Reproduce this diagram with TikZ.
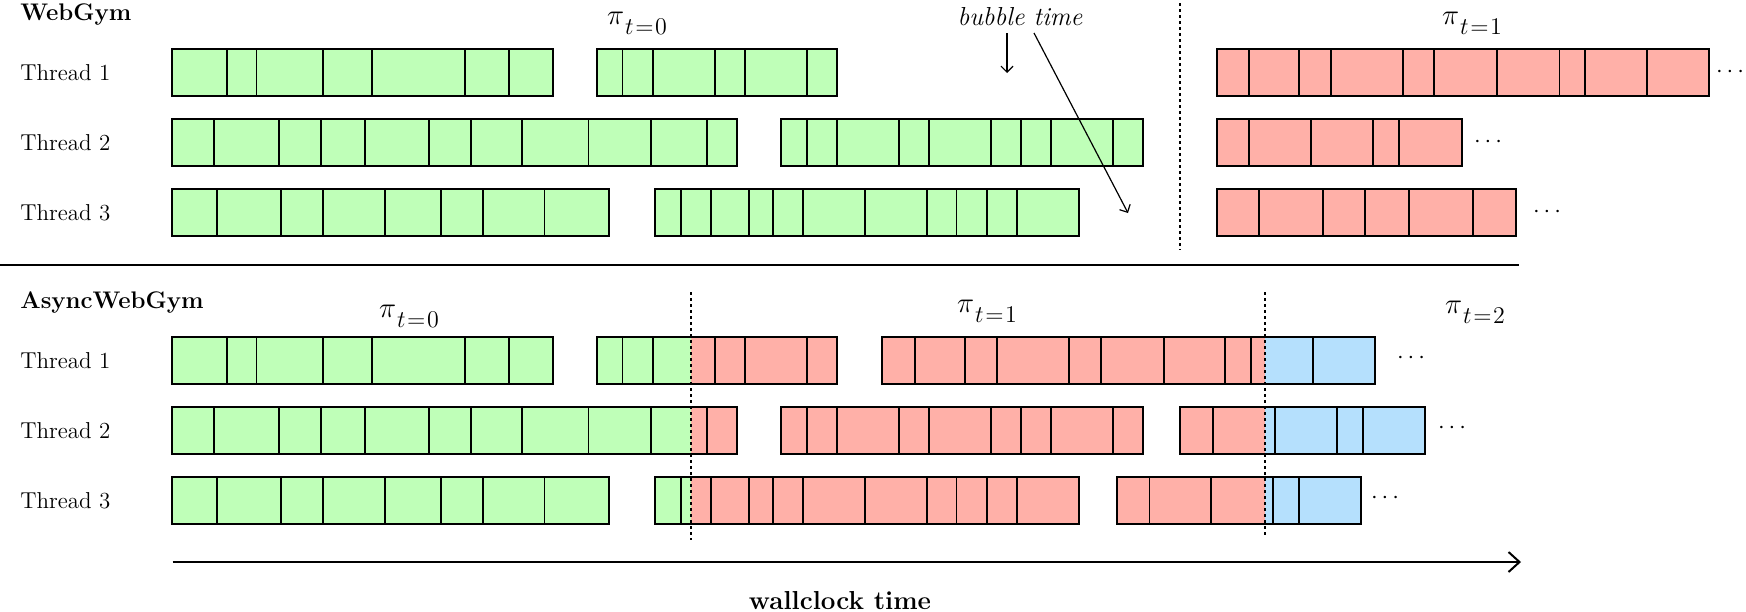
\documentclass[tikz,border=0pt]{standalone}
\usetikzlibrary{arrows.meta}
\definecolor{gfill}{RGB}{191,255,184}
\definecolor{rfill}{RGB}{255,176,168}
\definecolor{bfill}{RGB}{181,224,253}
\newcommand\pisub[1]{{\fontsize{14.4}{16}\selectfont$\pi$}\kern0.5pt\raisebox{-5pt}{\fontsize{12}{12}\selectfont$t\kern0.8pt{=}\kern0.8pt#1$}}
\newcommand\cellfill[5]{\fill[#5] (#3,#1) rectangle (#4,#2);}
\newcommand\cellbar[5]{%
  \foreach \xx in {#5} {\draw[divline] (\xx,#1) -- (\xx,#2);}
  \draw[frame] (#3,#1) rectangle (#4,#2);}
\begin{document}
\begin{tikzpicture}[x=0.5pt,y=-0.5pt,
  frame/.style={draw=black,line width=1pt},
  divline/.style={draw=black,line width=0.9pt},
  sepline/.style={draw=black,line width=0.9pt},
  vdots/.style={draw=black,line width=0.75pt,dash pattern=on 1.5pt off 1.5pt},
  thr/.style={anchor=west,inner sep=0pt,font=\fontsize{11.5}{13}\selectfont},
  ttl/.style={anchor=base west,inner sep=0pt,font=\fontsize{12}{14}\selectfont\bfseries},
  pil/.style={inner sep=0pt},
  more/.style={inner sep=0pt,font=\fontsize{11.5}{13}\selectfont},
  bub/.style={line width=0.6pt,-{Straight Barb[length=3pt,width=6pt]}},
  axis/.style={line width=1pt,-{Straight Barb[length=5.5pt,width=10pt]}}
]
\useasboundingbox (0,0) rectangle (1746,611);

% ---------------- WebGym ----------------
\node[ttl] (wg) at (20,20) {WebGym};
\node[thr] (wt1) at (20,72.5) {Thread 1};
\node[thr] (wt2) at (20,142.5) {Thread 2};
\node[thr] (wt3) at (20,212.5) {Thread 3};

% fills
\cellfill{49}{96}{172.2}{553.3}{gfill}
\cellfill{49}{96}{596.5}{836.8}{gfill}
\cellfill{119}{166}{172.2}{736.9}{gfill}
\cellfill{119}{166}{780.9}{1142.9}{gfill}
\cellfill{189}{236}{172.2}{608.7}{gfill}
\cellfill{189}{236}{654.6}{1079}{gfill}
\cellfill{49}{96}{1216.5}{1708.7}{rfill}
\cellfill{119}{166}{1216.5}{1461.7}{rfill}
\cellfill{189}{236}{1216.5}{1515.6}{rfill}
% cells
\cellbar{49}{96}{172.2}{553.3}{226.9,256.4,322.6,372.3,464.9,508.9}
\cellbar{49}{96}{596.5}{836.8}{622.5,652.7,715.1,744.9,806.9}
\cellbar{119}{166}{172.2}{736.9}{214.3,278.6,320.7,364.7,428.6,470.7,522.3,588.5,650.8,706.7}
\cellbar{119}{166}{780.9}{1142.9}{806.9,836.8,898.8,928.6,991,1020.8,1050.7,1112.7}
\cellbar{189}{236}{172.2}{608.7}{217,281.3,322.6,384.6,441.2,483.3,544.5}
\cellbar{189}{236}{654.6}{1079}{680.6,710.9,748.8,772.9,803.1,864.7,926.7,956.5,986.8,1017}
\cellbar{49}{96}{1216.5}{1708.7}{1248.8,1298.6,1330.9,1402.8,1434.3,1497,1559.4,1585.2,1647.2}
\cellbar{119}{166}{1216.5}{1461.7}{1248.8,1310.8,1373.1,1399}
\cellbar{189}{236}{1216.5}{1515.6}{1259.1,1322.9,1364.7,1409.2,1473.1}

\node[more] (wd1) at (1730,72) {$\cdots$};
\node[more] (wd2) at (1488,142) {$\cdots$};
\node[more] (wd3) at (1547,212) {$\cdots$};

\node[pil] (wp0) at (637,23.5) {\pisub{0}};
\node[pil] (wp1) at (1472,23.5) {\pisub{1}};

\node[anchor=base,inner sep=0pt,font=\fontsize{13}{15}\selectfont\itshape] (bt) at (1020,25) {bubble time};
\coordinate (ba1) at (1007,33);
\coordinate (ba1e) at (1007,73);
\coordinate (ba2) at (1034,33);
\coordinate (ba2e) at (1128,213);
\draw[bub] (ba1) -- (ba1e);
\draw[bub] (ba2) -- (ba2e);

\coordinate (wv0) at (1180,3);
\coordinate (wv1) at (1180,250);
\draw[vdots] (wv0) -- (wv1);

\coordinate (s0) at (0,265);
\coordinate (s1) at (1519,265);
\draw[sepline] (s0) -- (s1);

% ---------------- AsyncWebGym ----------------
\node[ttl] (ag) at (20,308) {AsyncWebGym};
\node[thr] (at1) at (20,360.5) {Thread 1};
\node[thr] (at2) at (20,430.5) {Thread 2};
\node[thr] (at3) at (20,500.5) {Thread 3};

% fills
\cellfill{337}{384}{172.2}{553.3}{gfill}
\cellfill{337}{384}{596.5}{691}{gfill}
\cellfill{337}{384}{691}{836.8}{rfill}
\cellfill{337}{384}{882.3}{1264.8}{rfill}
\cellfill{337}{384}{1264.8}{1375.4}{bfill}
\cellfill{407}{454}{172.2}{691}{gfill}
\cellfill{407}{454}{691}{736.9}{rfill}
\cellfill{407}{454}{780.9}{1142.9}{rfill}
\cellfill{407}{454}{1180.4}{1264.8}{rfill}
\cellfill{407}{454}{1264.8}{1424.8}{bfill}
\cellfill{477}{524}{172.2}{608.7}{gfill}
\cellfill{477}{524}{654.6}{691}{gfill}
\cellfill{477}{524}{691}{1079}{rfill}
\cellfill{477}{524}{1117.3}{1264.8}{rfill}
\cellfill{477}{524}{1264.8}{1361}{bfill}
% cells
\cellbar{337}{384}{172.2}{553.3}{226.9,256.4,322.6,372.3,464.9,508.9}
\cellbar{337}{384}{596.5}{836.8}{622.5,652.7,715.1,744.9,806.9}
\cellbar{337}{384}{882.3}{1375.4}{914.8,965,997.1,1069,1101.2,1163.6,1224.9,1250.7,1312.7}
\cellbar{407}{454}{172.2}{736.9}{214.3,278.6,320.7,364.7,428.6,470.7,522.3,588.5,650.8,706.7}
\cellbar{407}{454}{780.9}{1142.9}{806.9,836.8,898.8,928.6,991,1020.8,1050.7,1112.7}
\cellbar{407}{454}{1180.4}{1424.8}{1212.7,1274.7,1337,1362.8}
\cellbar{477}{524}{172.2}{608.7}{217,281.3,322.6,384.6,441.2,483.3,544.5}
\cellbar{477}{524}{654.6}{1079}{680.6,710.9,748.8,772.9,803.1,864.7,926.7,956.5,986.8,1017}
\cellbar{477}{524}{1117.3}{1361}{1149.4,1210.8,1272.8,1299}

\node[more] (ad1) at (1411,358) {$\cdots$};
\node[more] (ad2) at (1452,428) {$\cdots$};
\node[more] (ad3) at (1385,498) {$\cdots$};

\node[pil] (ap0) at (409,316) {\pisub{0}};
\node[pil] (ap1) at (987,311) {\pisub{1}};
\node[pil] (ap2) at (1475,312) {\pisub{2}};

\coordinate (av0) at (691,292);
\coordinate (av1) at (691,540);
\coordinate (av2) at (1264.8,292);
\coordinate (av3) at (1264.8,538);
\draw[vdots] (av0) -- (av1);
\draw[vdots] (av2) -- (av3);

\coordinate (ax0) at (172.6,562);
\coordinate (ax1) at (1521,562);
\draw[axis] (ax0) -- (ax1);
\node[anchor=base,inner sep=0pt,font=\fontsize{13}{15}\selectfont\bfseries] (wc) at (840,609) {wallclock time};
\end{tikzpicture}
\end{document}
